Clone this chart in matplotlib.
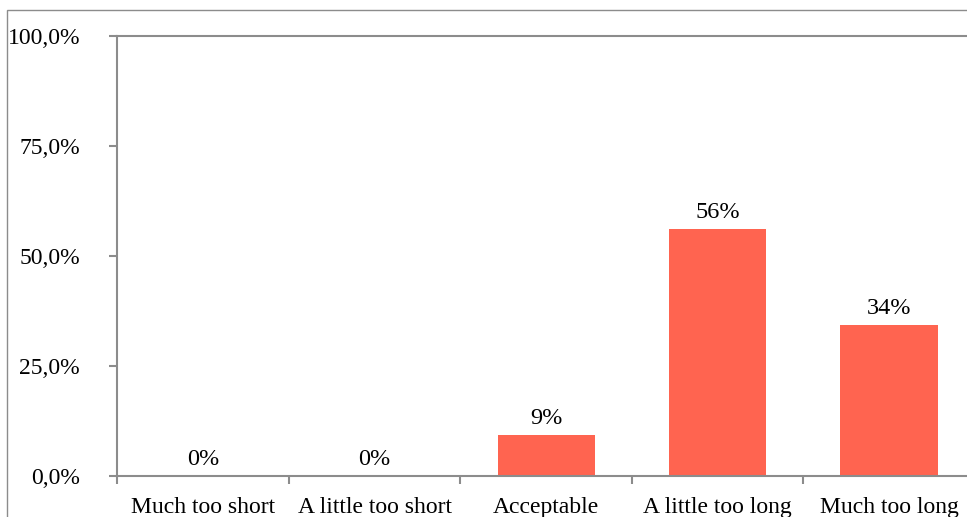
import matplotlib.pyplot as plt
from matplotlib.patches import Rectangle
from matplotlib.ticker import FuncFormatter

plt.rcParams['font.family'] = ['Liberation Serif', 'DejaVu Serif']

# 数据
categories = ["Much too short", "A little too short", "Acceptable", "A little too long", "Much too long"]
values = [0.0, 0.0, 9.4, 56.2, 34.4]
yticks = [0, 25, 50, 75, 100]

bar_color = '#FF6450'
axis_color = '#8C8C8C'

fig = plt.figure(figsize=(9.67, 5.17), dpi=100)
ax = fig.add_axes([0.1215, 0.0793, 0.8865, 0.8511])

x = list(range(len(categories)))
ax.bar(x, values, width=0.566, color=bar_color)

# 柱顶数值标签
for xi, v in zip(x, values):
    ax.text(xi, v + 1.3, f"{v:.0f}%", ha='center', va='bottom', fontsize=17.5)

ax.set_xlim(-0.5, len(categories) - 0.5)
ax.set_ylim(0, 100)
ax.set_yticks(yticks)
ax.yaxis.set_major_formatter(FuncFormatter(lambda v, p: f"{v:.1f}%".replace('.', ',')))

# 类别标签居中，刻度线放在类别之间
ax.set_xticks(x)
ax.set_xticklabels(categories)
ax.set_xticks([i - 0.5 for i in range(len(categories) + 1)], minor=True)
ax.tick_params(axis='x', which='major', length=0, pad=15, labelsize=17)
ax.tick_params(axis='x', which='minor', length=6, width=1.5, color=axis_color, direction='out')
ax.tick_params(axis='y', length=6, width=1.5, color=axis_color, pad=21, labelsize=17)

for side in ['left', 'bottom', 'top']:
    ax.spines[side].set_color(axis_color)
    ax.spines[side].set_linewidth(1.5)
ax.spines['right'].set_visible(False)

# 外框
fig.patches.append(Rectangle((0.0072, -0.05), 1.1, 1.03, transform=fig.transFigure,
                             fill=False, edgecolor='#8C8C8C', linewidth=1.0))

fig.savefig("out.png", dpi=100)
